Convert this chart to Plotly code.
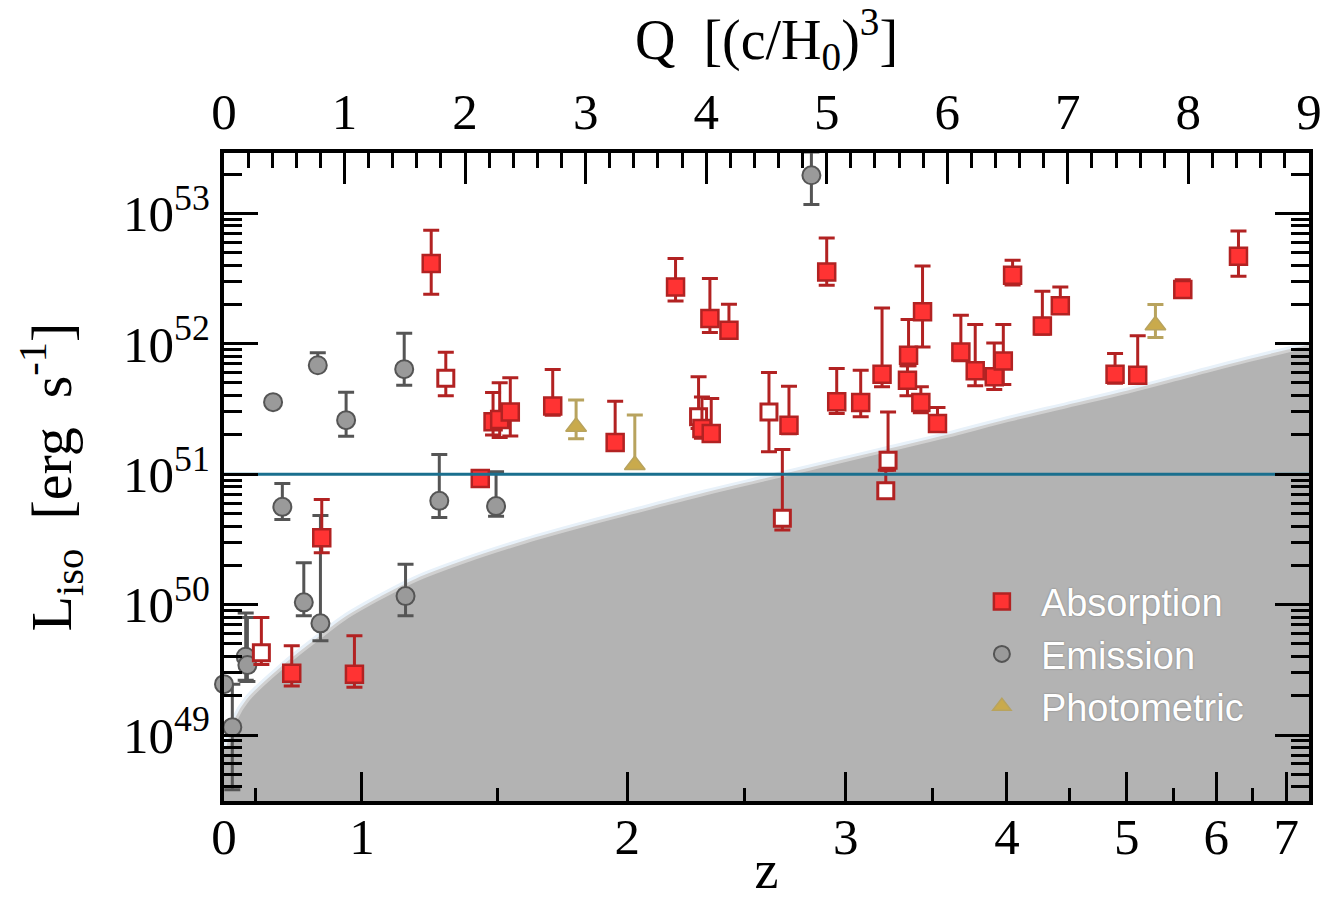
import math
import plotly.graph_objects as go

# ---------------- data ----------------
# Redshift ticks placed on the comoving-volume axis Q [(c/H0)^3]
z_tick_labels = ["0", "1", "2", "3", "4", "5", "6", "7"]
z_tick_q = [0.0, 1.144, 3.345, 5.158, 6.495, 7.489, 8.231, 8.812]
z_minor_q = [0.263, 2.265, 4.319, 5.878, 7.018, 7.879, 8.536]

# Absorption redshifts, filled symbols: Q, log10 L_iso, upper and lower error ends
abs_q = [0.562, 0.811, 1.082, 1.719, 2.126, 2.232, 2.287, 2.375, 2.727, 3.245,
         3.746, 3.965, 4.031, 4.042, 4.189, 4.687, 5.000, 5.083, 5.282, 5.459,
         5.670, 5.679, 5.781, 5.795, 5.919, 6.113, 6.232, 6.390, 6.465, 6.542,
         6.789, 6.938, 7.392, 7.580, 7.954, 8.416]
abs_logL = [49.473, 50.512, 49.465, 52.615, 50.967, 51.401, 51.419, 51.477, 51.523, 51.243,
            52.435, 51.350, 52.193, 51.312, 52.103, 51.375, 52.550, 51.554, 51.549, 51.766,
            51.720, 51.912, 51.549, 52.244, 51.389, 51.937, 51.792, 51.746, 51.868, 52.525,
            52.136, 52.290, 51.766, 51.759, 52.415, 52.670]
abs_logL_hi = [49.684, 50.806, 49.761, 52.870, 51.000, 51.626, 51.700, 51.738, 51.802, 51.559,
               52.653, 51.592, 52.500, 51.580, 52.303, 51.674, 52.811, 51.810, 51.797, 52.274,
               51.830, 52.185, 51.669, 52.596, 51.511, 52.218, 52.147, 52.006, 52.147, 52.640,
               52.402, 52.435, 51.925, 52.060, 52.490, 52.864]
abs_logL_lo = [49.375, 50.397, 49.366, 52.379, 50.940, 51.300, 51.281, 51.293, 51.452, 51.220,
               52.328, 51.276, 52.086, 51.260, 52.080, 51.310, 52.448, 51.465, 51.439, 51.669,
               51.600, 51.830, 51.470, 51.975, 51.340, 51.870, 51.677, 51.649, 51.687, 52.450,
               52.073, 52.234, 51.697, 51.720, 52.400, 52.517]

# Absorption redshifts, open symbols
abs_open_q = [0.310, 1.840, 3.937, 4.521, 4.632, 5.509, 5.490]
abs_open_logL = [49.630, 51.735, 51.439, 51.477, 50.661, 51.107, 50.872]
abs_open_logL_hi = [49.900, 51.934, 51.746, 51.779, 51.189, 51.477, 51.030]
abs_open_logL_lo = [49.540, 51.600, 51.350, 51.171, 50.571, 51.030, 50.870]

# Emission-line redshifts
em_q = [0.000, 0.069, 0.180, 0.194, 0.407, 0.484, 0.662, 0.778, 0.800, 1.013,
        1.495, 1.506, 1.786, 2.257, 4.873]
em_logL = [49.390, 49.060, 49.600, 49.536, 51.552, 50.749, 50.017, 51.835, 49.856, 51.414,
           51.805, 50.065, 50.795, 50.755, 53.291]
em_logL_hi = [49.390, 49.390, 49.935, 49.900, 51.552, 50.929, 50.320, 51.930, 50.683, 51.628,
              52.080, 50.310, 51.151, 51.018, 53.470]
em_logL_lo = [49.390, 48.580, 49.420, 49.410, 51.552, 50.653, 49.914, 51.800, 49.723, 51.291,
              51.682, 49.914, 50.668, 50.678, 53.067]

# Photometric redshifts
ph_q = [2.921, 3.408, 7.727]
ph_logL = [51.363, 51.070, 52.142]
ph_logL_hi = [51.568, 51.453, 52.300]
ph_logL_lo = [51.271, 51.050, 52.048]

# Detection-limit boundary of the shaded region
limit_q = [0.03, 0.10, 0.20, 0.50, 0.80, 1.00, 1.30, 1.60, 2.00, 2.50, 3.00, 3.50,
           4.00, 4.50, 5.00, 5.50, 6.00, 6.50, 7.00, 7.50, 8.00, 8.50, 9.00, 9.10]
limit_logL = [48.90, 49.12, 49.27, 49.53, 49.75, 49.89, 50.05, 50.19, 50.33, 50.48, 50.61, 50.73,
              50.85, 50.96, 51.07, 51.18, 51.29, 51.41, 51.52, 51.63, 51.75, 51.87, 51.98, 52.00]

# Reference luminosity level
ref_L = 1e51

# y-axis decades
y_decades = [49, 50, 51, 52, 53]

# ---------------- helpers ----------------
def lum(v):
    return [10.0 ** x for x in v]


def err_arrays(c, hi, lo):
    y = lum(c)
    up = [10.0 ** h - yy for h, yy in zip(hi, y)]
    dn = [yy - 10.0 ** l for l, yy in zip(lo, y)]
    return y, up, dn


RED_FILL = "#ff3333"
RED_EDGE = "#b22222"
GREY_FILL = "#9a9a9a"
GREY_EDGE = "#555555"
GOLD_FILL = "#c9aa4c"
GOLD_EDGE = "#b8a35e"
TEAL = "#1a6f8e"

X_RANGE = [0.0, 9.001]
Y_RANGE = [48.494, 53.462]

fig = go.Figure()

# soft light edge above the shaded region
fig.add_trace(go.Scatter(
    x=limit_q, y=lum(limit_logL), mode="lines",
    line=dict(color="#e8f1f9", width=9, shape="spline"),
    hoverinfo="skip", showlegend=False))

# shaded region below the detection limit
poly_q = limit_q + [limit_q[-1], -0.2, -0.2]
poly_L = lum(limit_logL) + [1e47, 1e47, 10.0 ** limit_logL[0]]
fig.add_trace(go.Scatter(
    x=poly_q, y=poly_L, mode="lines", fill="toself",
    fillcolor="#b3b3b3", line=dict(width=0, color="#b3b3b3"),
    hoverinfo="skip", showlegend=False))

fig.add_trace(go.Scatter(
    x=limit_q, y=lum(limit_logL), mode="lines",
    line=dict(color="#d0d0d0", width=3, shape="spline"),
    hoverinfo="skip", showlegend=False))

# reference level, drawn on the top Q axis
fig.add_trace(go.Scatter(
    x=[-0.2, 9.2], y=[ref_L, ref_L], mode="lines", xaxis="x2",
    line=dict(color=TEAL, width=3), hoverinfo="skip", showlegend=False))

# emission
y, up, dn = err_arrays(em_logL, em_logL_hi, em_logL_lo)
fig.add_trace(go.Scatter(
    x=em_q, y=y, mode="markers", name="Emission", cliponaxis=False, legendrank=2,
    marker=dict(symbol="circle", size=18, color=GREY_FILL,
                line=dict(color=GREY_EDGE, width=2)),
    error_y=dict(type="data", symmetric=False, array=up, arrayminus=dn,
                 color=GREY_EDGE, thickness=3, width=8)))

# absorption, open symbols
y, up, dn = err_arrays(abs_open_logL, abs_open_logL_hi, abs_open_logL_lo)
fig.add_trace(go.Scatter(
    x=abs_open_q, y=y, mode="markers", name="Absorption", showlegend=False,
    marker=dict(symbol="square", size=16, color="white",
                line=dict(color=RED_EDGE, width=3)),
    error_y=dict(type="data", symmetric=False, array=up, arrayminus=dn,
                 color=RED_EDGE, thickness=3, width=8)))

# absorption, filled symbols
y, up, dn = err_arrays(abs_logL, abs_logL_hi, abs_logL_lo)
fig.add_trace(go.Scatter(
    x=abs_q, y=y, mode="markers", name="Absorption", legendrank=1,
    marker=dict(symbol="square", size=17, color=RED_FILL,
                line=dict(color=RED_EDGE, width=2.5)),
    error_y=dict(type="data", symmetric=False, array=up, arrayminus=dn,
                 color=RED_EDGE, thickness=3, width=8)))

# photometric
y, up, dn = err_arrays(ph_logL, ph_logL_hi, ph_logL_lo)
fig.add_trace(go.Scatter(
    x=ph_q, y=y, mode="markers", name="Photometric", legendrank=3,
    marker=dict(symbol="triangle-up", size=18, color=GOLD_FILL,
                line=dict(color=GOLD_EDGE, width=1.5)),
    error_y=dict(type="data", symmetric=False, array=up, arrayminus=dn,
                 color=GOLD_EDGE, thickness=3, width=8)))

serif = "Liberation Serif"
tickfont = dict(family=serif, size=51, color="black")

y_minor = [m * 10.0 ** e for e in range(48, 54) for m in range(2, 10)
           if Y_RANGE[0] < e + math.log10(m) < Y_RANGE[1]]

fig.update_layout(
    width=1326, height=900,
    margin=dict(l=224, r=17, t=153, b=99),
    paper_bgcolor="white", plot_bgcolor="white",
    showlegend=True,
    legend=dict(
        x=0.681, y=0.356, xanchor="left", yanchor="top",
        bgcolor="rgba(0,0,0,0)", borderwidth=0,
        font=dict(family="Liberation Sans", size=38, color="white",
                  shadow="0px 0px 2px rgba(0,0,0,0.35)"),
        traceorder="normal", itemwidth=68,
    ),
    xaxis=dict(
        range=X_RANGE, automargin=False, showline=True, linewidth=4, linecolor="black",
        showgrid=False, zeroline=False,
        tickmode="array", tickvals=z_tick_q, ticktext=z_tick_labels,
        ticks="inside", ticklen=29, tickwidth=3, tickcolor="black",
        tickfont=tickfont, ticklabelstandoff=-12,
        minor=dict(tickmode="array", tickvals=z_minor_q, ticks="inside",
                   ticklen=13, tickwidth=3, tickcolor="black", showgrid=False),
        title=dict(text="z", font=dict(family=serif, size=54, color="black"),
                   standoff=30),
    ),
    xaxis2=dict(
        range=X_RANGE, automargin=False, overlaying="x", side="top", anchor="y",
        showline=True, linewidth=4, linecolor="black",
        showgrid=False, zeroline=False,
        tickmode="linear", tick0=0, dtick=1,
        ticks="inside", ticklen=31, tickwidth=3, tickcolor="black",
        tickfont=tickfont,
        minor=dict(tickmode="linear", tick0=0, dtick=0.2, ticks="inside",
                   ticklen=15, tickwidth=3, tickcolor="black", showgrid=False),
        title=dict(text="Q\u00a0\u00a0[(c/H<sub>0</sub>)<sup>3</sup>]",
                   font=dict(family=serif, size=56, color="black"), standoff=13),
    ),
    yaxis=dict(
        type="log", range=Y_RANGE, automargin=False, showline=True, linewidth=4,
        linecolor="black", mirror="ticks", showgrid=False, zeroline=False,
        tickmode="array", tickvals=[10.0 ** d for d in y_decades],
        ticktext=["10<sup>%d</sup>" % d for d in y_decades],
        ticks="inside", ticklen=34, tickwidth=3, tickcolor="black",
        tickfont=tickfont,
        minor=dict(tickmode="array", tickvals=y_minor, ticks="inside",
                   ticklen=18, tickwidth=3, tickcolor="black", showgrid=False),
        title=dict(text="L<sub>iso</sub>\u00a0\u00a0[erg\u00a0\u00a0s<sup>-1</sup>]",
                   font=dict(family=serif, size=58, color="black"), standoff=34),
    ),
)

fig.write_html("out.html")
